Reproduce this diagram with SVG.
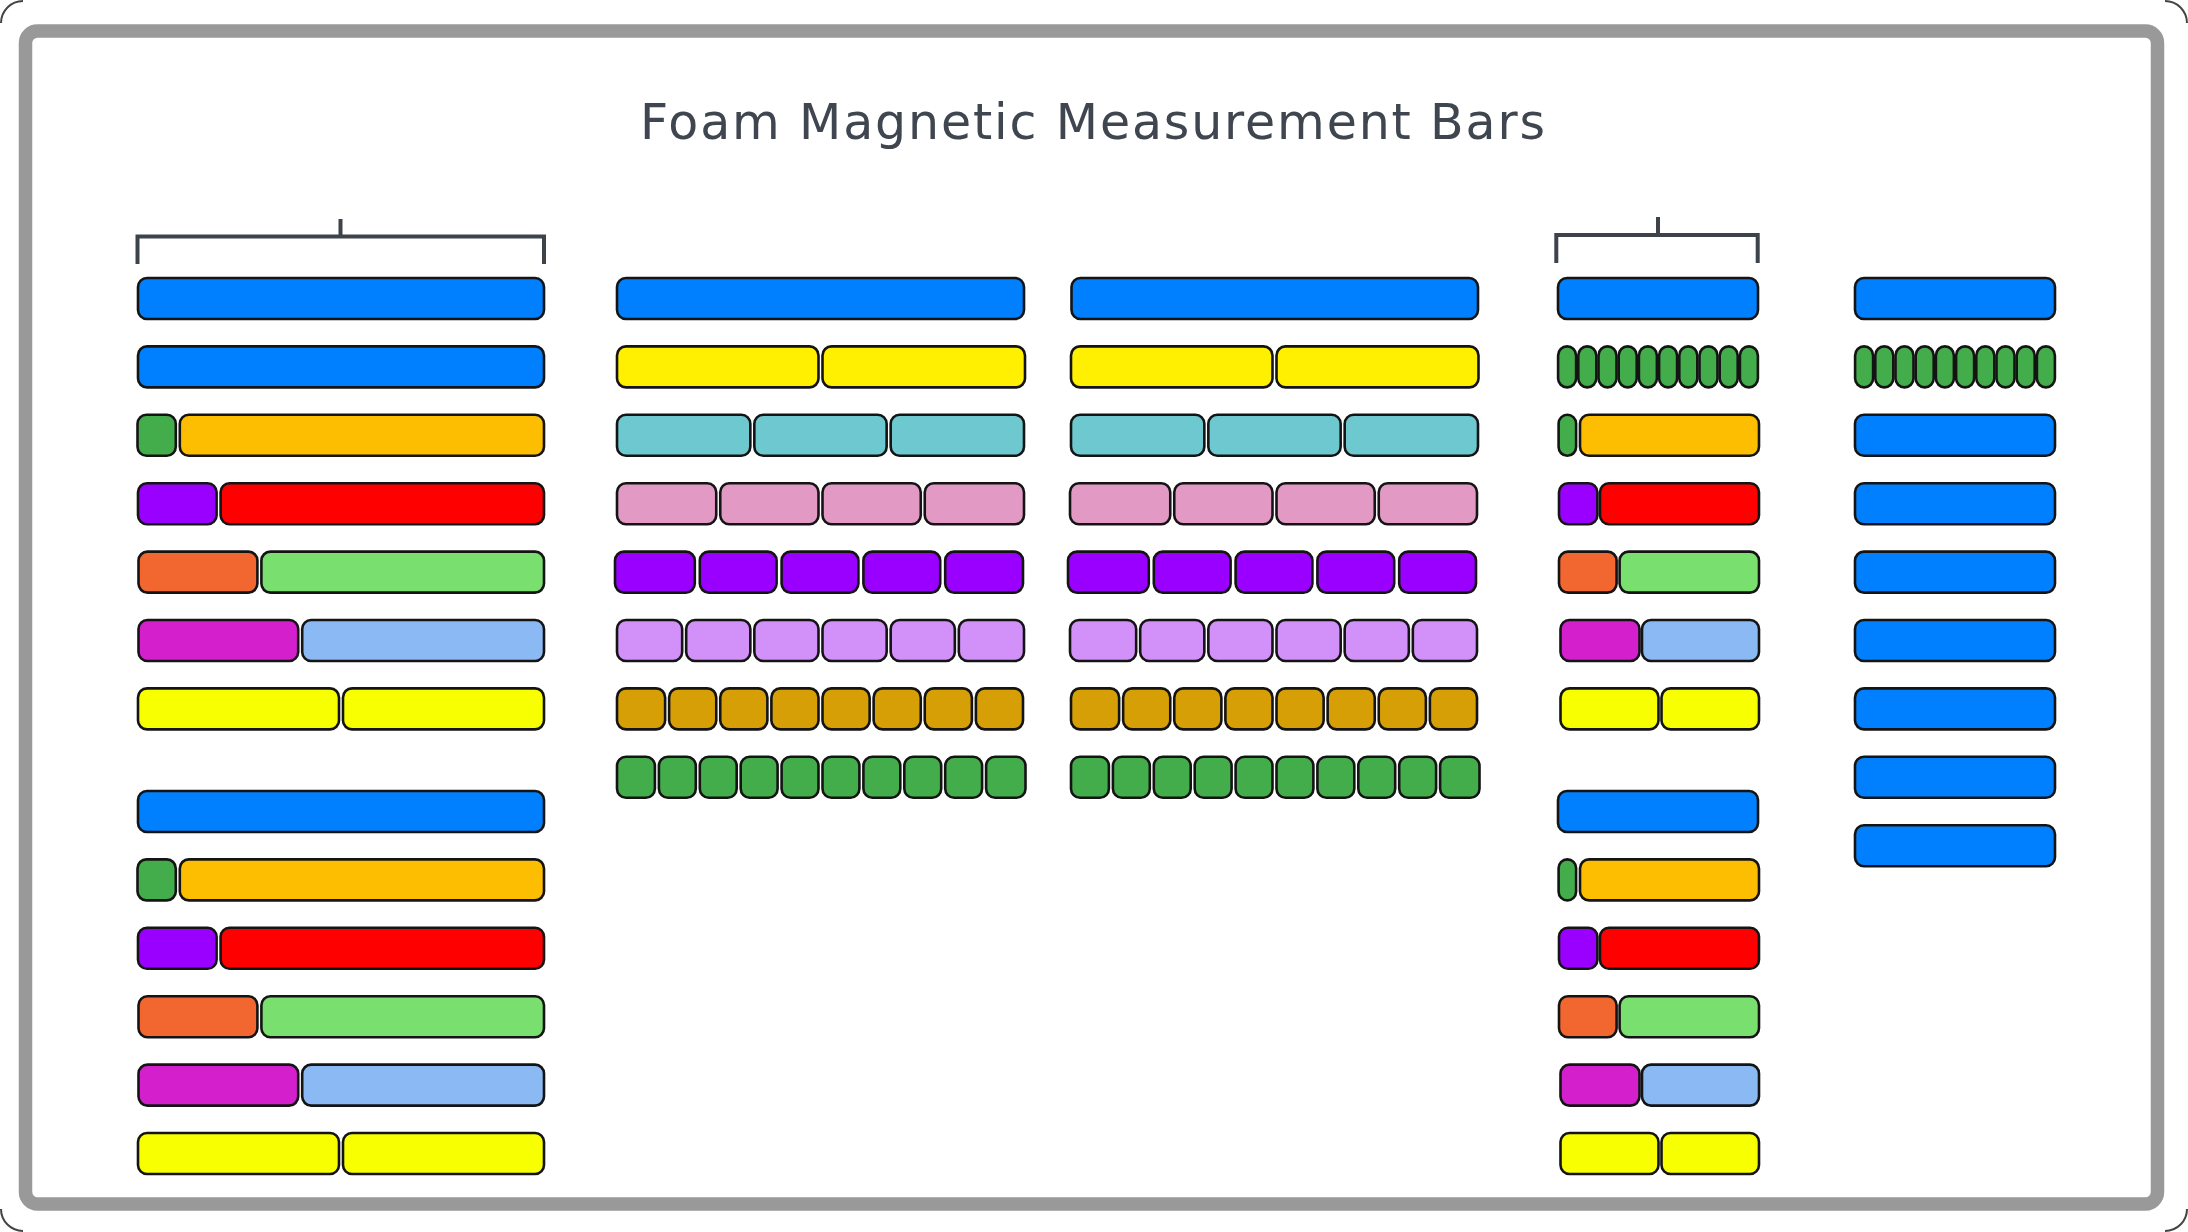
<svg xmlns="http://www.w3.org/2000/svg" width="2188" height="1232" viewBox="0 0 2188 1232">
<style>
.s{stroke:#141414;stroke-width:2.6}
.bl{fill:#0080FF}.gr{fill:#43AC4B}.or{fill:#FDBD00}.pu{fill:#9A00FF}.rd{fill:#FF0000}
.o2{fill:#F26630}.lg{fill:#79DF6F}.mg{fill:#D420CC}.lb{fill:#8BB9F4}.yl{fill:#F8FF00}
.y2{fill:#FFEF00}.tl{fill:#6DC9CF}.pk{fill:#E29AC4}.li{fill:#D291F9}.dg{fill:#D69F06}
.br{fill:none;stroke:#3d434b;stroke-width:4}
.cr{fill:none;stroke:#444;stroke-width:2}
.title{font-family:"DejaVu Sans","Liberation Sans",sans-serif;font-size:49px;fill:#3f464f}
</style>
<rect x="0" y="0" width="2188" height="1232" fill="#ffffff"/>
<g id="corners">
<path class="cr" d="M1 23A22 22 0 0 1 23 1"/>
<path class="cr" d="M2165 1A22 22 0 0 1 2187 23"/>
<path class="cr" d="M2187 1209A22 22 0 0 1 2165 1231"/>
<path class="cr" d="M23 1231A22 22 0 0 1 1 1209"/>
</g>
<rect id="frame" x="25.5" y="31" width="2132" height="1173" rx="12" fill="#ffffff" stroke="#999999" stroke-width="13.5"/>
<text id="title" class="title" x="1092.5" y="139" text-anchor="middle" textLength="905" lengthAdjust="spacing">Foam Magnetic Measurement Bars</text>

<g id="connectors">
<path class="br" d="M137.5 264V236.5H544V264M340.5 236.5V219"/>
<path class="br" d="M1556.3 263V235H1757.7V263M1658 235V217"/>
</g>

<!-- Column 1 (x=137, W=408) -->
<g id="c1r0" transform="translate(137,277)"><rect class="s bl" x="1" y="1" width="406" height="41" rx="9"/></g>
<g id="c1r1" transform="translate(137,345.4)"><rect class="s bl" x="1" y="1" width="406" height="41" rx="9"/></g>
<g id="c1r2" transform="translate(137,413.8)"><rect class="s gr" x="0.5" y="1" width="38.3" height="41" rx="9"/><rect class="s or" x="42.8" y="1" width="364.2" height="41" rx="9"/></g>
<g id="c1r3" transform="translate(137,482.2)"><rect class="s pu" x="1" y="1" width="78.6" height="41" rx="9"/><rect class="s rd" x="83.6" y="1" width="323.4" height="41" rx="9"/></g>
<g id="c1r4" transform="translate(137,550.6)"><rect class="s o2" x="1.5" y="1" width="118.9" height="41" rx="9"/><rect class="s lg" x="124.4" y="1" width="282.6" height="41" rx="9"/></g>
<g id="c1r5" transform="translate(137,619)"><rect class="s mg" x="1.5" y="1" width="159.7" height="41" rx="9"/><rect class="s lb" x="165.2" y="1" width="241.8" height="41" rx="9"/></g>
<g id="c1r6" transform="translate(137,687.4)"><rect class="s yl" x="1" y="1" width="201" height="41" rx="9"/><rect class="s yl" x="206" y="1" width="201" height="41" rx="9"/></g>
<g id="c1g2r0" transform="translate(137,790)"><rect class="s bl" x="1" y="1" width="406" height="41" rx="9"/></g>
<g id="c1g2r1" transform="translate(137,858.4)"><rect class="s gr" x="0.5" y="1" width="38.3" height="41" rx="9"/><rect class="s or" x="42.8" y="1" width="364.2" height="41" rx="9"/></g>
<g id="c1g2r2" transform="translate(137,926.8)"><rect class="s pu" x="1" y="1" width="78.6" height="41" rx="9"/><rect class="s rd" x="83.6" y="1" width="323.4" height="41" rx="9"/></g>
<g id="c1g2r3" transform="translate(137,995.2)"><rect class="s o2" x="1.5" y="1" width="118.9" height="41" rx="9"/><rect class="s lg" x="124.4" y="1" width="282.6" height="41" rx="9"/></g>
<g id="c1g2r4" transform="translate(137,1063.6)"><rect class="s mg" x="1.5" y="1" width="159.7" height="41" rx="9"/><rect class="s lb" x="165.2" y="1" width="241.8" height="41" rx="9"/></g>
<g id="c1g2r5" transform="translate(137,1132)"><rect class="s yl" x="1" y="1" width="201" height="41" rx="9"/><rect class="s yl" x="206" y="1" width="201" height="41" rx="9"/></g>

<!-- Column 2 (x=616, W=409) -->
<g id="c2r0" transform="translate(616,277)"><rect class="s bl" x="1" y="1" width="407" height="41" rx="9"/></g>
<g id="c2r1" transform="translate(616,345.4)"><rect class="s y2" x="1" y="1" width="201.5" height="41" rx="9"/><rect class="s y2" x="206.5" y="1" width="202.5" height="41" rx="9"/></g>
<g id="c2r2" transform="translate(616,413.8)"><rect class="s tl" x="1" y="1" width="133.33" height="41" rx="9"/><rect class="s tl" x="138.33" y="1" width="132.33" height="41" rx="9"/><rect class="s tl" x="274.67" y="1" width="133.33" height="41" rx="9"/></g>
<g id="c2r3" transform="translate(616,482.2)"><rect class="s pk" x="1" y="1" width="99.25" height="41" rx="9"/><rect class="s pk" x="104.25" y="1" width="98.25" height="41" rx="9"/><rect class="s pk" x="206.5" y="1" width="98.25" height="41" rx="9"/><rect class="s pk" x="308.75" y="1" width="99.25" height="41" rx="9"/></g>
<g id="c2r4" transform="translate(616,550.6)"><rect class="s pu" x="-1" y="1" width="79.8" height="41" rx="9"/><rect class="s pu" x="83.8" y="1" width="76.8" height="41" rx="9"/><rect class="s pu" x="165.6" y="1" width="76.8" height="41" rx="9"/><rect class="s pu" x="247.4" y="1" width="76.8" height="41" rx="9"/><rect class="s pu" x="329.2" y="1" width="77.8" height="41" rx="9"/></g>
<g id="c2r5" transform="translate(616,619)"><rect class="s li" x="1" y="1" width="65.17" height="41" rx="9"/><rect class="s li" x="70.17" y="1" width="64.17" height="41" rx="9"/><rect class="s li" x="138.33" y="1" width="64.17" height="41" rx="9"/><rect class="s li" x="206.5" y="1" width="64.17" height="41" rx="9"/><rect class="s li" x="274.67" y="1" width="64.17" height="41" rx="9"/><rect class="s li" x="342.83" y="1" width="65.17" height="41" rx="9"/></g>
<g id="c2r6" transform="translate(616,687.4)"><rect class="s dg" x="1" y="1" width="48.13" height="41" rx="9"/><rect class="s dg" x="53.13" y="1" width="47.13" height="41" rx="9"/><rect class="s dg" x="104.25" y="1" width="47.13" height="41" rx="9"/><rect class="s dg" x="155.38" y="1" width="47.13" height="41" rx="9"/><rect class="s dg" x="206.5" y="1" width="47.13" height="41" rx="9"/><rect class="s dg" x="257.63" y="1" width="47.13" height="41" rx="9"/><rect class="s dg" x="308.75" y="1" width="47.13" height="41" rx="9"/><rect class="s dg" x="359.88" y="1" width="47.13" height="41" rx="9"/></g>
<g id="c2r7" transform="translate(616,755.8)"><rect class="s gr" x="1" y="1" width="37.9" height="41" rx="9"/><rect class="s gr" x="42.9" y="1" width="36.9" height="41" rx="9"/><rect class="s gr" x="83.8" y="1" width="36.9" height="41" rx="9"/><rect class="s gr" x="124.7" y="1" width="36.9" height="41" rx="9"/><rect class="s gr" x="165.6" y="1" width="36.9" height="41" rx="9"/><rect class="s gr" x="206.5" y="1" width="36.9" height="41" rx="9"/><rect class="s gr" x="247.4" y="1" width="36.9" height="41" rx="9"/><rect class="s gr" x="288.3" y="1" width="36.9" height="41" rx="9"/><rect class="s gr" x="329.2" y="1" width="36.9" height="41" rx="9"/><rect class="s gr" x="370.1" y="1" width="39.4" height="41" rx="9"/></g>

<!-- Column 3 (x=1070, W=409) -->
<g id="c3r0" transform="translate(1070,277)"><rect class="s bl" x="1.5" y="1" width="406.5" height="41" rx="9"/></g>
<g id="c3r1" transform="translate(1070,345.4)"><rect class="s y2" x="1" y="1" width="201.5" height="41" rx="9"/><rect class="s y2" x="206.5" y="1" width="202" height="41" rx="9"/></g>
<g id="c3r2" transform="translate(1070,413.8)"><rect class="s tl" x="1" y="1" width="133.33" height="41" rx="9"/><rect class="s tl" x="138.33" y="1" width="132.33" height="41" rx="9"/><rect class="s tl" x="274.67" y="1" width="133.33" height="41" rx="9"/></g>
<g id="c3r3" transform="translate(1070,482.2)"><rect class="s pk" x="0" y="1" width="100.25" height="41" rx="9"/><rect class="s pk" x="104.25" y="1" width="98.25" height="41" rx="9"/><rect class="s pk" x="206.5" y="1" width="98.25" height="41" rx="9"/><rect class="s pk" x="308.75" y="1" width="98.25" height="41" rx="9"/></g>
<g id="c3r4" transform="translate(1070,550.6)"><rect class="s pu" x="-2" y="1" width="80.8" height="41" rx="9"/><rect class="s pu" x="83.8" y="1" width="76.8" height="41" rx="9"/><rect class="s pu" x="165.6" y="1" width="76.8" height="41" rx="9"/><rect class="s pu" x="247.4" y="1" width="76.8" height="41" rx="9"/><rect class="s pu" x="329.2" y="1" width="76.8" height="41" rx="9"/></g>
<g id="c3r5" transform="translate(1070,619)"><rect class="s li" x="0" y="1" width="66.17" height="41" rx="9"/><rect class="s li" x="70.17" y="1" width="64.17" height="41" rx="9"/><rect class="s li" x="138.33" y="1" width="64.17" height="41" rx="9"/><rect class="s li" x="206.5" y="1" width="64.17" height="41" rx="9"/><rect class="s li" x="274.67" y="1" width="64.17" height="41" rx="9"/><rect class="s li" x="342.83" y="1" width="64.17" height="41" rx="9"/></g>
<g id="c3r6" transform="translate(1070,687.4)"><rect class="s dg" x="1" y="1" width="48.13" height="41" rx="9"/><rect class="s dg" x="53.13" y="1" width="47.13" height="41" rx="9"/><rect class="s dg" x="104.25" y="1" width="47.13" height="41" rx="9"/><rect class="s dg" x="155.38" y="1" width="47.13" height="41" rx="9"/><rect class="s dg" x="206.5" y="1" width="47.13" height="41" rx="9"/><rect class="s dg" x="257.63" y="1" width="47.13" height="41" rx="9"/><rect class="s dg" x="308.75" y="1" width="47.13" height="41" rx="9"/><rect class="s dg" x="359.88" y="1" width="47.13" height="41" rx="9"/></g>
<g id="c3r7" transform="translate(1070,755.8)"><rect class="s gr" x="1" y="1" width="37.9" height="41" rx="9"/><rect class="s gr" x="42.9" y="1" width="36.9" height="41" rx="9"/><rect class="s gr" x="83.8" y="1" width="36.9" height="41" rx="9"/><rect class="s gr" x="124.7" y="1" width="36.9" height="41" rx="9"/><rect class="s gr" x="165.6" y="1" width="36.9" height="41" rx="9"/><rect class="s gr" x="206.5" y="1" width="36.9" height="41" rx="9"/><rect class="s gr" x="247.4" y="1" width="36.9" height="41" rx="9"/><rect class="s gr" x="288.3" y="1" width="36.9" height="41" rx="9"/><rect class="s gr" x="329.2" y="1" width="36.9" height="41" rx="9"/><rect class="s gr" x="370.1" y="1" width="39.4" height="41" rx="9"/></g>

<!-- Column 4 (x=1557, W=202) -->
<g id="c4r0" transform="translate(1557,277)"><rect class="s bl" x="1" y="1" width="200" height="41" rx="9"/></g>
<g id="c4r1" transform="translate(1557,345.4)"><rect class="s gr" x="1.1" y="1" width="18" height="41" rx="9"/><rect class="s gr" x="21.3" y="1" width="18" height="41" rx="9"/><rect class="s gr" x="41.5" y="1" width="18" height="41" rx="9"/><rect class="s gr" x="61.7" y="1" width="18" height="41" rx="9"/><rect class="s gr" x="81.9" y="1" width="18" height="41" rx="9"/><rect class="s gr" x="102.1" y="1" width="18" height="41" rx="9"/><rect class="s gr" x="122.3" y="1" width="18" height="41" rx="9"/><rect class="s gr" x="142.5" y="1" width="18" height="41" rx="9"/><rect class="s gr" x="162.7" y="1" width="18" height="41" rx="9"/><rect class="s gr" x="182.9" y="1" width="18" height="41" rx="9"/></g>
<g id="c4r2" transform="translate(1557,413.8)"><rect class="s gr" x="1.6" y="1" width="17.5" height="41" rx="8.7"/><rect class="s or" x="23" y="1" width="179" height="41" rx="9"/></g>
<g id="c4r3" transform="translate(1557,482.2)"><rect class="s pu" x="2" y="1" width="38.4" height="41" rx="9"/><rect class="s rd" x="43" y="1" width="159" height="41" rx="9"/></g>
<g id="c4r4" transform="translate(1557,550.6)"><rect class="s o2" x="2" y="1" width="57.6" height="41" rx="9"/><rect class="s lg" x="62.6" y="1" width="139.4" height="41" rx="9"/></g>
<g id="c4r5" transform="translate(1557,619)"><rect class="s mg" x="3.5" y="1" width="79" height="41" rx="9"/><rect class="s lb" x="85" y="1" width="117" height="41" rx="9"/></g>
<g id="c4r6" transform="translate(1557,687.4)"><rect class="s yl" x="3.5" y="1" width="98" height="41" rx="9"/><rect class="s yl" x="104.5" y="1" width="97.5" height="41" rx="9"/></g>
<g id="c4g2r0" transform="translate(1557,790)"><rect class="s bl" x="1" y="1" width="200" height="41" rx="9"/></g>
<g id="c4g2r1" transform="translate(1557,858.4)"><rect class="s gr" x="1.6" y="1" width="17.5" height="41" rx="8.7"/><rect class="s or" x="23" y="1" width="179" height="41" rx="9"/></g>
<g id="c4g2r2" transform="translate(1557,926.8)"><rect class="s pu" x="2" y="1" width="38.4" height="41" rx="9"/><rect class="s rd" x="43" y="1" width="159" height="41" rx="9"/></g>
<g id="c4g2r3" transform="translate(1557,995.2)"><rect class="s o2" x="2" y="1" width="57.6" height="41" rx="9"/><rect class="s lg" x="62.6" y="1" width="139.4" height="41" rx="9"/></g>
<g id="c4g2r4" transform="translate(1557,1063.6)"><rect class="s mg" x="3.5" y="1" width="79" height="41" rx="9"/><rect class="s lb" x="85" y="1" width="117" height="41" rx="9"/></g>
<g id="c4g2r5" transform="translate(1557,1132)"><rect class="s yl" x="3.5" y="1" width="98" height="41" rx="9"/><rect class="s yl" x="104.5" y="1" width="97.5" height="41" rx="9"/></g>

<!-- Column 5 (x=1854, W=202) -->
<g id="c5r0" transform="translate(1854,277)"><rect class="s bl" x="1" y="1" width="200" height="41" rx="9"/></g>
<g id="c5r1" transform="translate(1854,345.4)"><rect class="s gr" x="1.1" y="1" width="18" height="41" rx="9"/><rect class="s gr" x="21.3" y="1" width="18" height="41" rx="9"/><rect class="s gr" x="41.5" y="1" width="18" height="41" rx="9"/><rect class="s gr" x="61.7" y="1" width="18" height="41" rx="9"/><rect class="s gr" x="81.9" y="1" width="18" height="41" rx="9"/><rect class="s gr" x="102.1" y="1" width="18" height="41" rx="9"/><rect class="s gr" x="122.3" y="1" width="18" height="41" rx="9"/><rect class="s gr" x="142.5" y="1" width="18" height="41" rx="9"/><rect class="s gr" x="162.7" y="1" width="18" height="41" rx="9"/><rect class="s gr" x="182.9" y="1" width="18" height="41" rx="9"/></g>
<g id="c5r2" transform="translate(1854,413.8)"><rect class="s bl" x="1" y="1" width="200" height="41" rx="9"/></g>
<g id="c5r3" transform="translate(1854,482.2)"><rect class="s bl" x="1" y="1" width="200" height="41" rx="9"/></g>
<g id="c5r4" transform="translate(1854,550.6)"><rect class="s bl" x="1" y="1" width="200" height="41" rx="9"/></g>
<g id="c5r5" transform="translate(1854,619)"><rect class="s bl" x="1" y="1" width="200" height="41" rx="9"/></g>
<g id="c5r6" transform="translate(1854,687.4)"><rect class="s bl" x="1" y="1" width="200" height="41" rx="9"/></g>
<g id="c5r7" transform="translate(1854,755.8)"><rect class="s bl" x="1" y="1" width="200" height="41" rx="9"/></g>
<g id="c5r8" transform="translate(1854,824.2)"><rect class="s bl" x="1" y="1" width="200" height="41" rx="9"/></g>
</svg>
